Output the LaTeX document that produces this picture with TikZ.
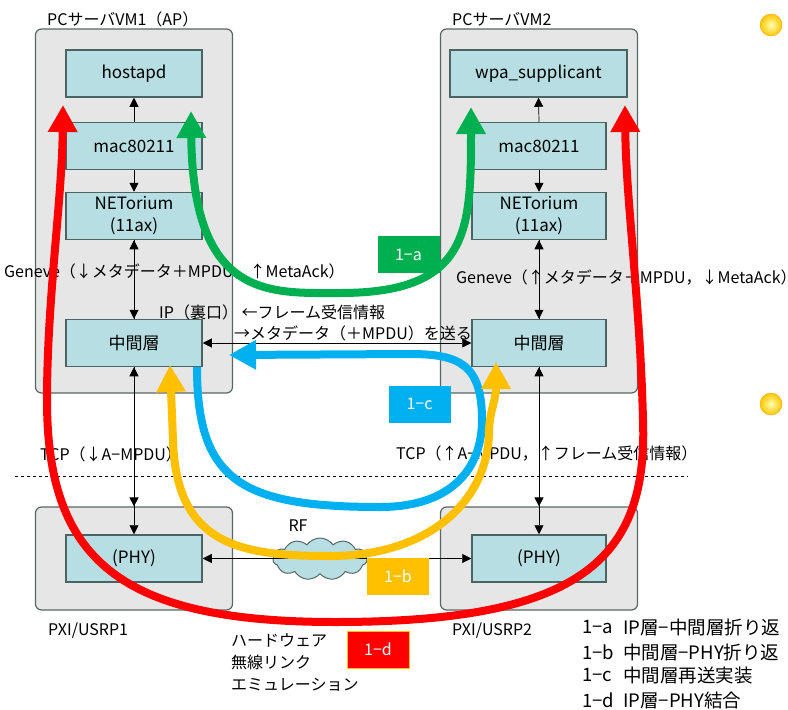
\documentclass[tikz,border=0pt]{standalone}
\usepackage{fontspec}
\setmainfont{Noto Sans CJK JP}
\usetikzlibrary{arrows.meta,shapes.symbols}

\definecolor{layerfill}{HTML}{B7DFE3}
\definecolor{layerline}{HTML}{4A6464}
\definecolor{hostfill}{HTML}{E6E6E6}
\definecolor{hostline}{HTML}{5A6666}
\definecolor{path1a}{HTML}{00B050}
\definecolor{path1b}{HTML}{FFC000}
\definecolor{path1c}{HTML}{00B0F0}
\definecolor{path1d}{HTML}{FF0000}

\tikzset{
  hostbox/.style={draw=hostline, fill=hostfill, line width=1.2pt, rounded corners=6pt,
    minimum width=197pt, inner sep=0pt},
  layerbox/.style={draw=layerline, fill=layerfill, line width=1.5pt, minimum height=47pt,
    align=center, inner sep=0pt, font=\fontsize{17}{22}\selectfont},
  lbl/.style={anchor=west, inner sep=0pt},
  link/.style={line width=0.7pt, -{Triangle[width=9pt,length=9pt]}},
  flow/.style={line width=8pt, -{Triangle[width=28pt,length=27pt]}},
  tagbox/.style={text=white, minimum width=62pt, minimum height=37pt, inner sep=0pt},
  bullet/.style={circle, inner color=yellow!30!white, outer color=orange!45!yellow,
    draw=orange!70!yellow, line width=0.4pt, minimum size=22pt}
}

\begin{document}
\begin{tikzpicture}[x=1pt, y=-1pt, font=\fontsize{16}{22}\selectfont]
  \useasboundingbox (0,0) rectangle (788,710);

  % hosts
  \node[hostbox, minimum height=364pt] (vmA) at (134,211) {};
  \node[hostbox, minimum height=364pt] (vmB) at (539,211) {};
  \node[hostbox, minimum height=103pt] (pxiA) at (134,558.5) {};
  \node[hostbox, minimum height=103pt] (pxiB) at (539,558.5) {};

  % layers
  \node[layerbox, minimum width=136pt] (hostapd) at (134,73.5) {hostapd};
  \node[layerbox, minimum width=136pt] (macA) at (134,146) {mac80211};
  \node[layerbox, minimum width=136pt] (netA) at (134,216) {NETorium\\(11ax)};
  \node[layerbox, minimum width=136pt] (midA) at (134,343) {中間層};
  \node[layerbox, minimum width=136pt] (phyA) at (134,558.5) {(PHY)};

  \node[layerbox, minimum width=177pt] (wpa) at (538.5,73.5) {wpa\_supplicant};
  \node[layerbox, minimum width=134pt] (macB) at (539,146) {mac80211};
  \node[layerbox, minimum width=134pt] (netB) at (539,216) {NETorium\\(11ax)};
  \node[layerbox, minimum width=134pt] (midB) at (539,343) {中間層};
  \node[layerbox, minimum width=134pt] (phyB) at (539,558.5) {(PHY)};

  % thin arrows
  \foreach \s in {A,B} {
    \draw[link] (mac\s.south) -- (net\s.north);
    \draw[link] (net\s.south) -- (mid\s.north);
    \draw[link] (mid\s.north) -- (net\s.south);
    \draw[link] (mid\s.south) -- (pxi\s.north);
    \draw[link] (pxi\s.north) -- (mid\s.south);
    \draw[link] (pxi\s.north) -- (phy\s.north);
  }
  \draw[link] (macA.north) -- (hostapd.south);
  \draw[link] (macB.north) -- (wpa.south);
  \draw[link, {Triangle[width=9pt,length=9pt]}-{Triangle[width=9pt,length=9pt]}] (midA.east) -- (midB.west |- midA.east);

  \node[cloud, draw=hostline, fill=layerfill, line width=1pt, cloud puffs=11, cloud puff arc=110,
    aspect=2.3, minimum width=94pt, minimum height=42pt, inner sep=0pt] (rf) at (320,559) {};
  \draw[link, {Triangle[width=9pt,length=9pt]}-{Triangle[width=9pt,length=9pt]}] (phyA.east) -- (phyB.west);

  \coordinate (cutL) at (15,476);
  \coordinate (cutR) at (688,476);
  \draw[dashed, line width=0.6pt] (cutL) -- (cutR);

  % labels
  \node[lbl] (vmAText) at (47,19) {PCサーバVM1（AP）};
  \node[lbl] (vmBText) at (452,19) {PCサーバVM2};
  \node[lbl] (genA) at (4,272) {Geneve（↓メタデータ＋MPDU，↑MetaAck）};
  \node[lbl] (genB) at (456,278) {Geneve（↑メタデータ＋MPDU，↓MetaAck）};
  \node[lbl] (ipText) at (159,312) {IP（裏口） ←フレーム受信情報};
  \node[lbl] (sendText) at (234,333) {→メタデータ（＋MPDU）を送る};
  \node[lbl] (tcpA) at (40,454) {TCP（↓A−MPDU）};
  \node[lbl] (tcpB) at (396,454) {TCP（↑A−MPDU，↑フレーム受信情報）};
  \node[inner sep=0pt] (rfText) at (298,526) {RF};
  \node[lbl] (pxiAText) at (48,631) {PXI/USRP1};
  \node[lbl] (pxiBText) at (452,631) {PXI/USRP2};
  \node[lbl, align=left] (hwText) at (231,663) {ハードウェア\\無線リンク\\エミュレーション};

  % test paths
  \draw[flow, path1d, {Triangle[width=28pt,length=27pt]}-{Triangle[width=28pt,length=27pt]}]
    (63,105) .. controls (62,200) and (47,300) .. (47,400)
    .. controls (47,560) and (120,622) .. (335,622)
    .. controls (580,622) and (648,560) .. (643,420)
    .. controls (640,300) and (626,200) .. (625,105);
  \draw[flow, path1a, {Triangle[width=28pt,length=27pt]}-{Triangle[width=28pt,length=27pt]}]
    (191,111) .. controls (193,300) and (270,293) .. (340,293)
    .. controls (470,293) and (471,230) .. (471,107);
  \draw[flow, path1c]
    (197,367) .. controls (197,480) and (240,507) .. (380,507)
    .. controls (450,507) and (482,470) .. (482,420)
    .. controls (482,365) and (460,354) .. (410,354) -- (229,355);
  \draw[flow, path1b, {Triangle[width=28pt,length=27pt]}-{Triangle[width=28pt,length=27pt]}]
    (170,365) -- (173,440)
    .. controls (176,545) and (240,556) .. (330,556)
    .. controls (430,556) and (489,500) .. (489,430)
    .. controls (490,410) and (496,400) .. (496,362);

  % tags
  \node[tagbox, fill=path1a] (tag1a) at (408.5,254.5) {1−a};
  \node[tagbox, fill=path1c] (tag1c) at (419.5,404) {1−c};
  \node[tagbox, fill=path1b] (tag1b) at (398,576.5) {1−b};
  \node[tagbox, fill=path1d, draw=path1b, line width=0.8pt] (tag1d) at (378,649.5) {1−d};

  \node[bullet] (dotA) at (771,25) {};
  \node[bullet] (dotB) at (771,404) {};

  % legend
  \foreach \y/\k/\t [count=\i] in {627/1−a/IP層−中間層折り返, 652/1−b/中間層−PHY折り返,
      675/1−c/中間層再送実装, 700/1−d/IP層−PHY結合} {
    \node[lbl, font=\fontsize{18.5}{24}\selectfont] (key\i) at (582,\y) {\k};
    \node[lbl, font=\fontsize{18.5}{24}\selectfont] (item\i) at (623,\y) {\t};
  }
\end{tikzpicture}
\end{document}
